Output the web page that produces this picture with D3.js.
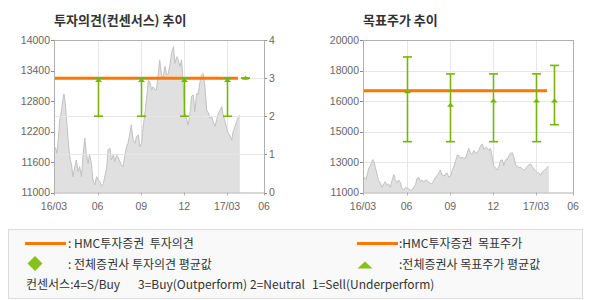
<!DOCTYPE html>
<html>
<head>
<meta charset="utf-8">
<script src="https://cdn.jsdelivr.net/npm/d3@7"></script>
<style>
  body { margin: 0; background: #fff; }
  svg { display: block; }
  .num { font-family: "Liberation Sans", Arial, sans-serif; font-size: 10.5px; fill: #666; }
  .title { font-family: "Noto Sans CJK KR", sans-serif; font-size: 13px; font-weight: bold; fill: #333; }
  .leg { font-family: "Noto Sans CJK KR", sans-serif; font-size: 12px; fill: #333; }
</style>
</head>
<body>
<div id="chart"></div>
<script>

// stock price (close)
const priceSeries = [
  ["2016-03-01", 11900], ["2016-03-05", 11870], ["2016-03-07", 11770], ["2016-03-10", 12030],
  ["2016-03-13", 12430], ["2016-03-17", 12620], ["2016-03-20", 12850], ["2016-03-22", 12940],
  ["2016-03-25", 12750], ["2016-03-27", 12490], ["2016-03-31", 12030], ["2016-04-03", 11700],
  ["2016-04-07", 11540], ["2016-04-10", 11310], ["2016-04-14", 11510], ["2016-04-17", 11640],
  ["2016-04-21", 11410], ["2016-04-24", 11510], ["2016-04-28", 11310], ["2016-05-01", 11700],
  ["2016-05-05", 12070], ["2016-05-08", 11770], ["2016-05-12", 11570], ["2016-05-15", 11740],
  ["2016-05-19", 11570], ["2016-05-22", 11250], ["2016-05-26", 11150], ["2016-05-30", 11310],
  ["2016-06-02", 11250], ["2016-06-06", 11210], ["2016-06-09", 11120], ["2016-06-13", 11180],
  ["2016-06-16", 11310], ["2016-06-20", 11480], ["2016-06-23", 11840], ["2016-06-27", 11870],
  ["2016-06-30", 11640], ["2016-07-04", 11740], ["2016-07-07", 11610], ["2016-07-11", 11740],
  ["2016-07-14", 11700], ["2016-07-18", 11610], ["2016-07-21", 11540], ["2016-07-25", 11510],
  ["2016-07-28", 11700], ["2016-08-01", 11900], ["2016-08-04", 11970], ["2016-08-08", 12160],
  ["2016-08-11", 12330], ["2016-08-15", 12030], ["2016-08-19", 11970], ["2016-08-22", 12100],
  ["2016-08-26", 12130], ["2016-08-29", 11900], ["2016-09-02", 11970], ["2016-09-05", 12300],
  ["2016-09-08", 12490], ["2016-09-12", 12820], ["2016-09-16", 13210], ["2016-09-19", 13180],
  ["2016-09-23", 13020], ["2016-09-26", 13080], ["2016-09-30", 13020], ["2016-10-03", 13020],
  ["2016-10-07", 13340], ["2016-10-10", 13610], ["2016-10-14", 13310], ["2016-10-17", 13250],
  ["2016-10-21", 13480], ["2016-10-25", 13310], ["2016-10-28", 13340], ["2016-11-01", 13540],
  ["2016-11-04", 13740], ["2016-11-08", 13870], ["2016-11-11", 13540], ["2016-11-15", 13670],
  ["2016-11-18", 13610], ["2016-11-22", 13480], ["2016-11-25", 13610], ["2016-11-27", 13340],
  ["2016-11-29", 13020], ["2016-12-02", 12560], ["2016-12-06", 12430], ["2016-12-09", 12330],
  ["2016-12-13", 12560], ["2016-12-16", 12890], ["2016-12-20", 12920], ["2016-12-23", 12590],
  ["2016-12-27", 12950], ["2016-12-30", 12920], ["2017-01-03", 13180], ["2017-01-06", 13310],
  ["2017-01-10", 13340], ["2017-01-14", 13020], ["2017-01-17", 12620], ["2017-01-21", 12560],
  ["2017-01-24", 12460], ["2017-01-28", 12490], ["2017-01-31", 12390], ["2017-02-04", 12300],
  ["2017-02-07", 12430], ["2017-02-11", 12560], ["2017-02-14", 12620], ["2017-02-18", 12690],
  ["2017-02-21", 12520], ["2017-02-25", 12390], ["2017-02-28", 12260], ["2017-03-04", 12160],
  ["2017-03-07", 12130], ["2017-03-11", 12030], ["2017-03-14", 12200], ["2017-03-18", 12300],
  ["2017-03-21", 12390], ["2017-03-25", 12490], ["2017-03-28", 12520]
]

// consensus snapshots (all brokers)
const consensusDates = ["2016-06-01", "2016-09-01", "2016-12-01", "2017-03-01", "2017-04-08"]
const opinionMin = [2, 2, 2, 2, 3]
const opinionAvg = [2.94, 2.94, 2.94, 2.94, 3]
const opinionMax = [3, 3, 3, 3, 3]
const targetMin = [14000, 14000, 14000, 14000, 15000]
const targetAvg = [16950, 16150, 16400, 16400, 16400]
const targetMax = [19000, 18000, 18000, 18000, 18500]

// HMC investment own view
const hmcOpinion = 3
const hmcTarget = 17000
const hmcRange = ["2016-03-01", "2017-03-24"]

// axes
const xTickDates = ["2016-03-01", "2016-06-01", "2016-09-01", "2016-12-01", "2017-03-01", "2017-05-18"]
const xTickLabels = ["16/03", "06", "09", "12", "17/03", "06"]
const priceTicks = [11000, 11600, 12200, 12800, 13400, 14000]
const opinionTicks = [0, 1, 2, 3, 4]
const targetTicks = [11000, 12800, 14600, 16400, 18200, 20000]
const targetTickLabels = ["11000", "13000", "15000", "16000", "18000", "20000"]

const legendLabels = [": HMC투자증권  투자의견", ": 전체증권사 투자의견 평균값", ":HMC투자증권  목표주가", ":전체증권사 목표주가 평균값"]
const consensusNote = ["컨센서스:4=S/Buy", "3=Buy(Outperform)", "2=Neutral", "1=Sell(Underperform)"]


const parse = d3.timeParse("%Y-%m-%d")
const prices = priceSeries.map(d => ({date: parse(d[0]), value: d[1]}))
const consensus = consensusDates.map((d, i) => ({
  date: parse(d),
  oMin: opinionMin[i], oAvg: opinionAvg[i], oMax: opinionMax[i],
  tMin: targetMin[i], tAvg: targetAvg[i], tMax: targetMax[i]
}))

const orange = "#ff7700"
const green = "#76b50c"
const gridColor = "#e6e6e6"
const frameColor = "#b0b0b0"

const svg = d3.select("#chart").append("svg")
    .attr("width", 590)
    .attr("height", 300)

const dims = {top: 40, bottom: 192.5, width: 210}

const xScaleFor = left => d3.scaleTime()
    .domain([parse(xTickDates[0]), parse(xTickDates[xTickDates.length - 1])])
    .range([left, left + dims.width])


function drawPanel(left, title, yScale) {
  const xScale = xScaleFor(left)
  const g = svg.append("g")

  g.append("text")
      .attr("class", "title")
      .attr("x", left)
      .attr("y", 25)
      .text(title)

  // vertical grid
  g.selectAll(".vgrid")
    .data(xTickDates.slice(1, -1))
    .enter().append("line")
      .attr("x1", d => Math.round(xScale(parse(d))) + 0.5)
      .attr("x2", d => Math.round(xScale(parse(d))) + 0.5)
      .attr("y1", dims.top)
      .attr("y2", dims.bottom)
      .attr("stroke", gridColor)

  // price area
  const area = d3.area()
    .x(d => xScale(d.date))
    .y0(yScale(yScale.domain()[0]))
    .y1(d => yScale(d.value))

  const line = d3.line()
    .x(d => xScale(d.date))
    .y(d => yScale(d.value))

  g.append("path")
      .datum(prices)
      .attr("d", area)
      .attr("fill", "#e0e0e0")

  g.append("path")
      .datum(prices)
      .attr("d", line)
      .attr("fill", "none")
      .attr("stroke", "#c2c2c2")
      .attr("stroke-width", 1)

  // x labels
  g.selectAll(".xlab")
    .data(xTickDates)
    .enter().append("text")
      .attr("class", "num")
      .attr("x", d => xScale(parse(d)))
      .attr("y", 210)
      .attr("text-anchor", "middle")
      .text((d, i) => xTickLabels[i])

  g.selectAll(".xtick")
    .data(xTickDates)
    .enter().append("line")
      .attr("x1", d => Math.round(xScale(parse(d))) + 0.5)
      .attr("x2", d => Math.round(xScale(parse(d))) + 0.5)
      .attr("y1", dims.bottom)
      .attr("y2", dims.bottom + 3)
      .attr("stroke", frameColor)

  return {g, xScale}
}

function drawErrorBars(g, xScale, yScale, lo, mid, hi) {
  const bars = g.selectAll(".ebar" + lo)
    .data(consensus)
    .enter().append("g")
      .attr("transform", d => `translate(${Math.round(xScale(d.date)) + 0.5},0)`)

  bars.append("line")
      .attr("y1", d => yScale(d[hi]))
      .attr("y2", d => yScale(d[lo]))
      .attr("stroke", green)
      .attr("stroke-width", 1.6)

  bars.append("line")
      .attr("x1", -4.5).attr("x2", 4.5)
      .attr("y1", d => yScale(d[hi]))
      .attr("y2", d => yScale(d[hi]))
      .attr("stroke", green)
      .attr("stroke-width", 1.6)

  bars.append("line")
      .attr("x1", -4.5).attr("x2", 4.5)
      .attr("y1", d => yScale(d[lo]))
      .attr("y2", d => yScale(d[lo]))
      .attr("stroke", green)
      .attr("stroke-width", 1.6)

  bars.append("path")
      .attr("d", "M-3.5,1.5L0,-2.5L3.5,1.5Z")
      .attr("transform", d => `translate(0,${yScale(d[mid])})`)
      .attr("fill", green)
}

function drawFrame(left) {
  svg.append("rect")
      .attr("x", left + 0.5)
      .attr("y", dims.top + 0.5)
      .attr("width", dims.width)
      .attr("height", dims.bottom - dims.top)
      .attr("fill", "none")
      .attr("stroke", frameColor)
}


// ---- left panel: 투자의견 ----
const leftX0 = 54
const priceScaleL = d3.scaleLinear().domain([11000, 14000]).range([dims.bottom, dims.top])
const opinionScale = d3.scaleLinear().domain([0, 4]).range([dims.bottom, dims.top])

const left = drawPanel(leftX0, "투자의견(컨센서스) 추이", priceScaleL)

left.g.selectAll(".hgrid")
  .data(opinionTicks.slice(1, -1))
  .enter().append("line")
    .attr("x1", leftX0)
    .attr("x2", leftX0 + dims.width)
    .attr("y1", d => Math.round(opinionScale(d)) + 0.5)
    .attr("y2", d => Math.round(opinionScale(d)) + 0.5)
    .attr("stroke", gridColor)

left.g.selectAll(".ylab")
  .data(priceTicks)
  .enter().append("text")
    .attr("class", "num")
    .attr("x", leftX0 - 4)
    .attr("y", d => priceScaleL(d))
    .attr("dy", "0.36em")
    .attr("text-anchor", "end")
    .text(d => d)

left.g.selectAll(".ytick")
  .data(priceTicks)
  .enter().append("line")
    .attr("x1", leftX0 - 3).attr("x2", leftX0)
    .attr("y1", d => Math.round(priceScaleL(d)) + 0.5)
    .attr("y2", d => Math.round(priceScaleL(d)) + 0.5)
    .attr("stroke", "#888")

left.g.selectAll(".y2lab")
  .data(opinionTicks)
  .enter().append("text")
    .attr("class", "num")
    .attr("x", leftX0 + dims.width + 5)
    .attr("y", d => opinionScale(d))
    .attr("dy", "0.36em")
    .text(d => d)

left.g.selectAll(".y2tick")
  .data(opinionTicks)
  .enter().append("line")
    .attr("x1", leftX0 + dims.width).attr("x2", leftX0 + dims.width + 3)
    .attr("y1", d => Math.round(opinionScale(d)) + 0.5)
    .attr("y2", d => Math.round(opinionScale(d)) + 0.5)
    .attr("stroke", "#888")

drawFrame(leftX0)

left.g.append("line")
    .attr("x1", left.xScale(parse(hmcRange[0])))
    .attr("x2", left.xScale(parse(hmcRange[1])))
    .attr("y1", opinionScale(hmcOpinion))
    .attr("y2", opinionScale(hmcOpinion))
    .attr("stroke", orange)
    .attr("stroke-width", 3)

drawErrorBars(left.g, left.xScale, opinionScale, "oMin", "oAvg", "oMax")


// ---- right panel: 목표주가 ----
const rightX0 = 363
const targetScale = d3.scaleLinear().domain([11000, 20000]).range([dims.bottom, dims.top])

const right = drawPanel(rightX0, "목표주가 추이", targetScale)

right.g.selectAll(".hgrid")
  .data(targetTicks.slice(1, -1))
  .enter().append("line")
    .attr("x1", rightX0)
    .attr("x2", rightX0 + dims.width)
    .attr("y1", d => Math.round(targetScale(d)) + 0.5)
    .attr("y2", d => Math.round(targetScale(d)) + 0.5)
    .attr("stroke", gridColor)
    .lower()

right.g.selectAll(".ylab")
  .data(targetTicks)
  .enter().append("text")
    .attr("class", "num")
    .attr("x", rightX0 - 4)
    .attr("y", d => targetScale(d))
    .attr("dy", "0.36em")
    .attr("text-anchor", "end")
    .text((d, i) => targetTickLabels[i])

right.g.selectAll(".ytick")
  .data(targetTicks)
  .enter().append("line")
    .attr("x1", rightX0 - 3).attr("x2", rightX0)
    .attr("y1", d => Math.round(targetScale(d)) + 0.5)
    .attr("y2", d => Math.round(targetScale(d)) + 0.5)
    .attr("stroke", "#888")

drawFrame(rightX0)

right.g.append("line")
    .attr("x1", right.xScale(parse(hmcRange[0])))
    .attr("x2", right.xScale(parse(hmcRange[1])))
    .attr("y1", targetScale(hmcTarget))
    .attr("y2", targetScale(hmcTarget))
    .attr("stroke", orange)
    .attr("stroke-width", 3)

drawErrorBars(right.g, right.xScale, targetScale, "tMin", "tAvg", "tMax")


// ---- legend ----
const legend = svg.append("g")

legend.append("rect")
    .attr("x", 8.5).attr("y", 229.5)
    .attr("width", 574).attr("height", 69)
    .attr("fill", "#f9f9f9")
    .attr("stroke", "#dcdcdc")

const legendCols = [25, 357]
const legendTextX = [68, 399]
const rowY = [243.5, 264.5]

legendCols.forEach((cx, i) => {
  legend.append("line")
      .attr("x1", cx).attr("x2", cx + 41)
      .attr("y1", rowY[0]).attr("y2", rowY[0])
      .attr("stroke", orange)
      .attr("stroke-width", 3)

  legend.append("text")
      .attr("class", "leg")
      .attr("x", legendTextX[i])
      .attr("y", rowY[0])
      .attr("dy", "0.35em")
      .style("white-space", "pre")
      .text(legendLabels[i * 2])

  legend.append("text")
      .attr("class", "leg")
      .attr("x", legendTextX[i])
      .attr("y", rowY[1])
      .attr("dy", "0.35em")
      .style("white-space", "pre")
      .text(legendLabels[i * 2 + 1])
})

legend.append("path")
    .attr("d", "M0,-7.5L7.5,0L0,7.5L-7.5,0Z")
    .attr("transform", `translate(35,${rowY[1] - 1})`)
    .attr("fill", "#86c21a")

legend.append("path")
    .attr("d", "M-7.5,3.5L0,-3.5L7.5,3.5Z")
    .attr("transform", `translate(365,${rowY[1] + 0.5})`)
    .attr("fill", "#86c21a")

const noteX = [26, 138, 250, 312]
legend.selectAll(".note")
  .data(consensusNote)
  .enter().append("text")
    .attr("class", "leg")
    .attr("x", (d, i) => noteX[i])
    .attr("y", 285)
    .attr("dy", "0.35em")
    .text(d => d)

</script>
</body>
</html>
